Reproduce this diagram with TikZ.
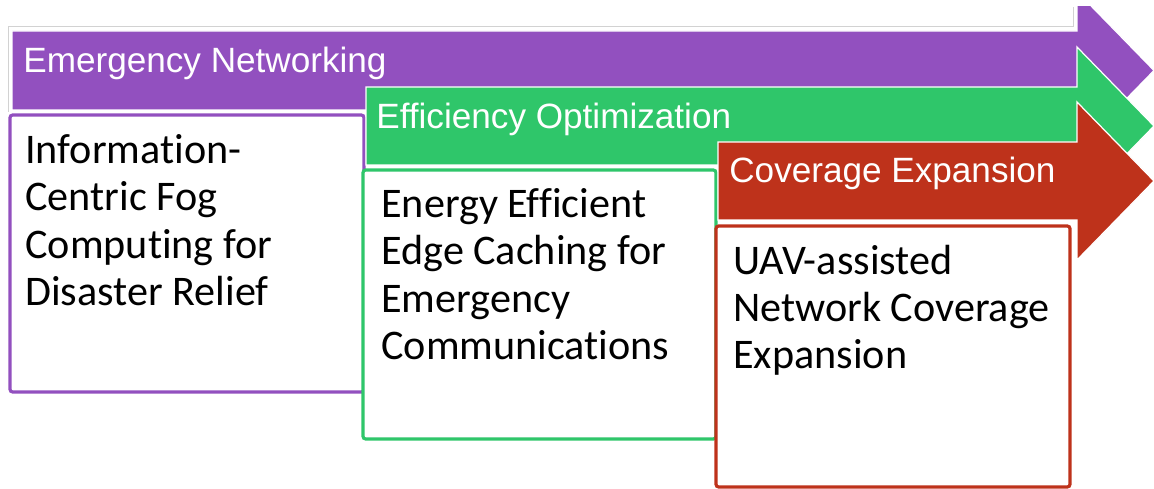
\documentclass[tikz,border=0pt]{standalone}
\usepackage{fontspec}
\setmainfont[Ligatures=NoCommon]{Carlito}
\newfontfamily\headfont{Liberation Sans}
\definecolor{netpurple}{RGB}{146,80,191}
\definecolor{effgreen}{RGB}{47,198,106}
\definecolor{covred}{RGB}{190,50,27}
\tikzset{
  stagearrow/.style={draw=white, line width=0.7pt},
  stagebox/.style={draw=#1, fill=white, line width=1.8pt, rounded corners=1.5pt},
  headtext/.style={anchor=base west, inner sep=0pt, text=white, font=\headfont\fontsize{20}{24}\selectfont},
  boxtext/.style={anchor=base west, inner sep=0pt, align=left, font=\fontsize{24}{27}\selectfont}
}
\begin{document}
\begin{tikzpicture}[x=0.02cm, y=-0.02cm]
\useasboundingbox (0,0) rectangle (1154,489);
\clip (0,7) rectangle (1154,489);
\draw [gray!35, line width=0.5pt] (8,112) -- (8,26) -- (1073,26) -- (1073,7);
% emergency networking
\filldraw [stagearrow, fill=netpurple] (12,31) -- (1077,31) -- (1077,-8.5) -- (1154,70.5) -- (1077,149.5) -- (1077,110) -- (12,110) -- cycle;
\node [headtext] (nethead) at (23,73) {Emergency Networking};
\draw [stagebox=netpurple] (10,115) rectangle (364,392);
\node [boxtext] (nettext) at (25,305.5) {Information-\\Centric Fog\\Computing for\\Disaster Relief};
% efficiency optimization
\filldraw [stagearrow, fill=effgreen] (366,87) -- (1077,87) -- (1077,47) -- (1154,126) -- (1077,205) -- (1077,165) -- (366,165) -- cycle;
\node [headtext] (effhead) at (376,129) {Efficiency Optimization};
\draw [stagebox=effgreen] (363,170) rectangle (716,439);
\node [boxtext] (efftext) at (381,359.5) {Energy Efficient\\Edge Caching for\\Emergency\\Communications};
% coverage expansion
\filldraw [stagearrow, fill=covred] (718,142) -- (1077,142) -- (1077,102) -- (1154,181) -- (1077,260) -- (1077,220) -- (718,220) -- cycle;
\node [headtext] (covhead) at (729,183) {Coverage Expansion};
\draw [stagebox=covred] (716,226) rectangle (1070,487);
\node [boxtext] (covtext) at (733,369) {UAV-assisted\\Network Coverage\\Expansion};
\end{tikzpicture}
\end{document}
